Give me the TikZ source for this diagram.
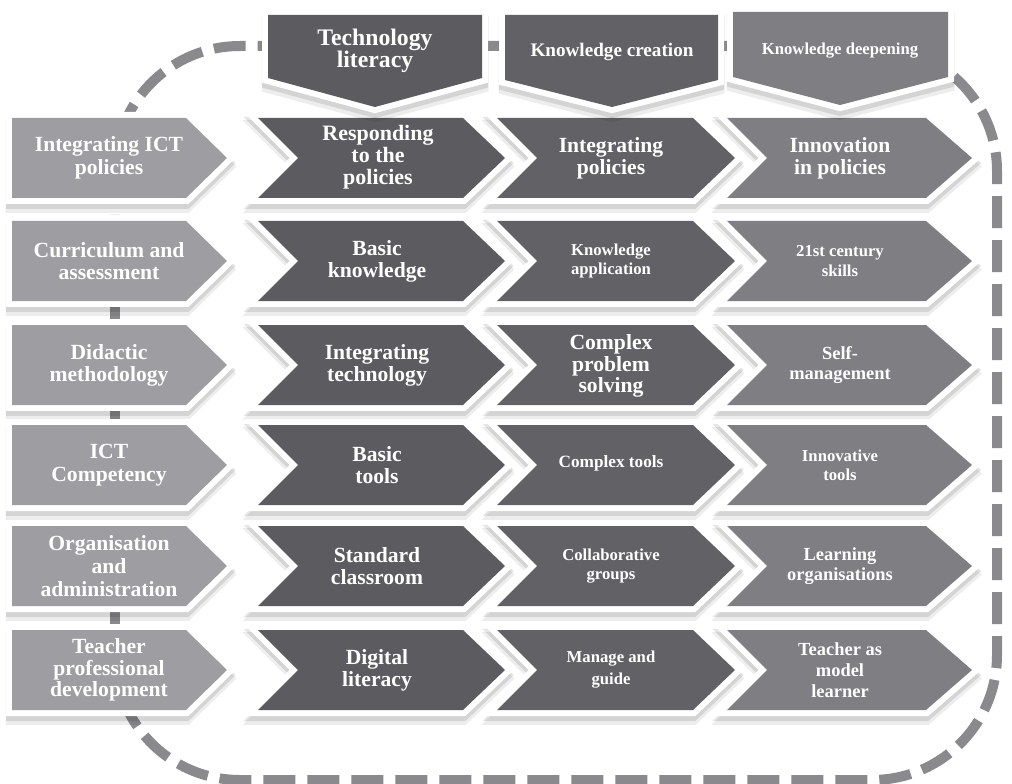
\documentclass[tikz,border=0pt]{standalone}
\usepackage{fontspec}
\setmainfont{Liberation Serif}
\usepackage{xcolor}
\usepackage{tikz}
\definecolor{rowgray}{RGB}{158,158,162}
\definecolor{litgray}{RGB}{92,92,96}
\definecolor{crgray}{RGB}{98,98,102}
\definecolor{dpgray}{RGB}{126,126,131}
\definecolor{loopgray}{RGB}{138,138,140}

\begin{document}
\begin{tikzpicture}[x=0.02cm, y=-0.02cm,
  block/.style={fill=#1, line join=miter,
    preaction={draw=black, opacity=0.07, line width=0.26cm,
      transform canvas={yshift=-0.17cm}},
    preaction={draw=black, opacity=0.1, line width=0.24cm,
      transform canvas={yshift=-0.1cm}},
    preaction={draw=white, line width=0.24cm}},
  lbl/.style={text=white, align=center,
    font=\bfseries\fontsize{12.3}{12.6}\selectfont},
  lblmid/.style={lbl, font=\bfseries\fontsize{10.5}{11.8}\selectfont},
  lblsmall/.style={lbl, font=\bfseries\fontsize{9.5}{11}\selectfont}]
  \fill[white] (0,0) rectangle (1012,784);
  \useasboundingbox (0,0) rectangle (1012,784);

  % Dashed frame behind everything
  \draw[loopgray, line width=0.2cm, rounded corners=2.5cm,
    dash pattern=on 0.64cm off 0.24cm] (115,46) rectangle (997,780);

  % Chevrons, one row at a time
  \foreach \y in {158,261,365,465,566,670} {
    \path[block=rowgray] (12,\y-40) -- (186,\y-40) -- (227,\y)
      -- (186,\y+40) -- (12,\y+40) -- cycle;
    \path[block=litgray] (258,\y-40) -- (463,\y-40) -- (505,\y)
      -- (463,\y+40) -- (258,\y+40) -- (298,\y) -- cycle;
    \path[block=crgray] (497,\y-40) -- (693,\y-40) -- (735,\y)
      -- (693,\y+40) -- (497,\y+40) -- (537,\y) -- cycle;
    \path[block=dpgray] (727,\y-40) -- (926,\y-40) -- (972,\y)
      -- (926,\y+40) -- (727,\y+40) -- (767,\y) -- cycle;
  }

  % Column headers
  \path[block=litgray] (268,15) -- (482,15) -- (482,78) -- (375,107)
    -- (268,78) -- cycle;
  \path[block=crgray] (505,15) -- (718,15) -- (718,80) -- (612,107)
    -- (505,80) -- cycle;
  \path[block=dpgray] (733,12) -- (948,12) -- (948,77) -- (840,105)
    -- (733,77) -- cycle;

  \node[lbl, font=\bfseries\fontsize{13.5}{12.6}\selectfont] (techlit) at (375,51) {Technology\\literacy};
  \node[lbl, font=\bfseries\fontsize{10.9}{12}\selectfont] (knowcre) at (612,52) {Knowledge creation};
  \node[lbl, font=\bfseries\fontsize{9.5}{11}\selectfont] (knowdeep) at (840,51) {Knowledge deepening};

  % Row labels
  \node[lbl, font=\bfseries\fontsize{12.3}{13}\selectfont] (ictpol) at (109,158) {Integrating ICT\\policies};
  \node[lbl] (curric) at (109,261) {Curriculum and\\assessment};
  \node[lbl] (didact) at (109,365) {Didactic\\methodology};
  \node[lbl, font=\bfseries\fontsize{12.3}{13}\selectfont] (ictcomp) at (109,465) {ICT\\Competency};
  \node[lbl, font=\bfseries\fontsize{12.3}{13}\selectfont] (organ) at (109,566) {Organisation\\and\\administration};
  \node[lbl, font=\bfseries\fontsize{12.3}{12.4}\selectfont] (profdev) at (109,670) {Teacher\\professional\\development};

  % Technology literacy
  \node[lbl, font=\bfseries\fontsize{12.5}{12.4}\selectfont] (respond) at (378,157) {Responding\\to the\\policies};
  \node[lbl] (basknow) at (377,261) {Basic\\knowledge};
  \node[lbl] (inttech) at (377,365) {Integrating\\technology};
  \node[lbl] (bastool) at (377,465) {Basic\\tools};
  \node[lbl] (stdclass) at (377,566) {Standard\\classroom};
  \node[lbl] (diglit) at (377,670) {Digital\\literacy};

  % Knowledge creation
  \node[lbl] (intpol) at (611,158) {Integrating\\policies};
  \node[lblsmall] (knowapp) at (611,261) {Knowledge\\application};
  \node[lbl, font=\bfseries\fontsize{12.3}{12.4}\selectfont] (cplxprob) at (611,366) {Complex\\problem\\solving};
  \node[lbl, font=\bfseries\fontsize{9.8}{11}\selectfont] (cplxtool) at (611,463) {Complex tools};
  \node[lblsmall] (collab) at (611,566) {Collaborative\\groups};
  \node[lblsmall, font=\bfseries\fontsize{9.5}{12.5}\selectfont] (manage) at (611,670) {Manage and\\guide};

  % Knowledge deepening
  \node[lbl] (innopol) at (840,158) {Innovation\\in policies};
  \node[lblsmall] (skills) at (840,261) {21st century\\skills};
  \node[lblmid] (selfman) at (840,365) {Self-\\management};
  \node[lblsmall] (innotool) at (840,465) {Innovative\\tools};
  \node[lblmid] (learnorg) at (840,566) {Learning\\organisations};
  \node[lblmid] (modlearn) at (840,670) {Teacher as\\model\\learner};
\end{tikzpicture}
\end{document}
